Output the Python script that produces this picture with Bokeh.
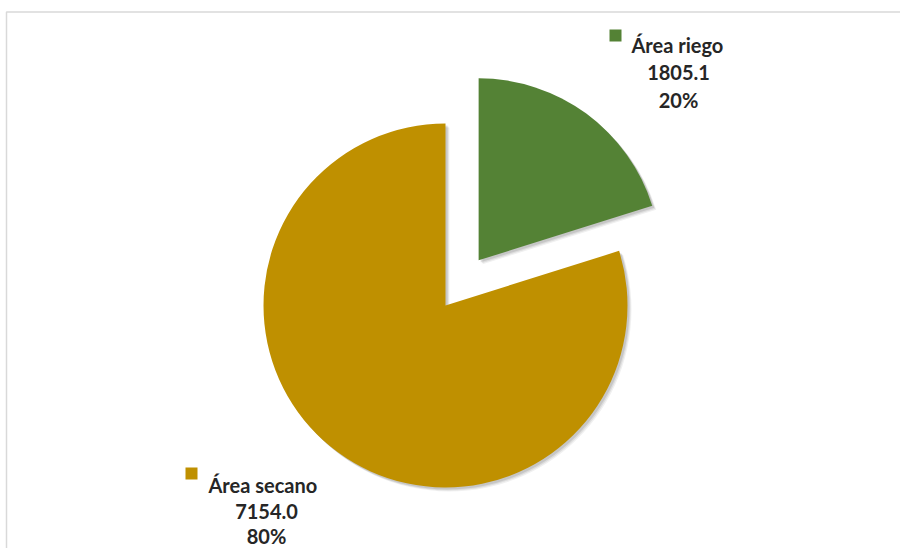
import math
from bokeh.plotting import figure
from bokeh.models import Range1d
from bokeh.core.properties import value
from bokeh.embed import file_html
from bokeh.resources import INLINE

# ---- data ----
categories = ["Área riego", "Área secano"]
values = [1805.1, 7154.0]
colors = ["#548235", "#BF9000"]

# ---- layout (pixels, page coordinates converted to data) ----
W, H = 900, 548
def px(x):  # page x -> data x
    return x
def py(y):  # page y -> data y
    return H - y

CX, CY = px(445), py(305)
R = 182
EXPLODE = [56, 0]

total = sum(values)
fracs = [v / total for v in values]

p = figure(width=W, height=H, x_range=Range1d(0, W), y_range=Range1d(0, H),
           output_backend="svg", toolbar_location=None, min_border=0)
p.axis.visible = False
p.grid.visible = False
p.outline_line_color = None
p.background_fill_color = "white"

# chart border (top & left visible, extends beyond)
p.line(x=[px(6), px(6), W], y=[0, py(11.5), py(11.5)], line_color="#d9d9d9", line_width=1.5)

cum = 0.0
wedges = []
for i, f in enumerate(fracs):
    end = math.radians(90 - cum * 360)
    start = math.radians(90 - (cum + f) * 360)
    mid = (start + end) / 2
    ox = CX + EXPLODE[i] * math.cos(mid)
    oy = CY + EXPLODE[i] * math.sin(mid)
    wedges.append((ox, oy, start, end, colors[i]))
    cum += f

# soft shadow
for dx, dy, a in [(4, -4, 0.06), (3, -3, 0.08), (2, -2, 0.10)]:
    for ox, oy, s, e, c in wedges:
        p.wedge(x=[ox + dx], y=[oy + dy], radius=R, start_angle=[s], end_angle=[e],
                fill_color="black", fill_alpha=a, line_color=None)

for ox, oy, s, e, c in wedges:
    p.wedge(x=[ox], y=[oy], radius=R, start_angle=[s], end_angle=[e],
            fill_color=c, line_color=None)

# ---- labels ----
FONT = value("Lato")
TXT = "#262626"
FS = "20px"
label_layout = [
    dict(sq=(615, 35), name_x=631, cx=678, base=(44, 72, 99)),
    dict(sq=(191, 473), name_x=208, cx=266, base=(484, 511, 535)),
]
for i, lay in enumerate(label_layout):
    p.rect(x=[px(lay["sq"][0])], y=[py(lay["sq"][1])], width=12, height=12,
           fill_color=colors[i], line_color=None)
    p.text(x=[px(lay["name_x"])], y=[py(lay["base"][0])], text=[categories[i]],
           text_font=FONT, text_font_style="bold", text_font_size=FS,
           text_color=TXT, text_align="left", text_baseline="alphabetic")
    p.text(x=[px(lay["cx"]), px(lay["cx"])], y=[py(lay["base"][1]), py(lay["base"][2])],
           text=[f"{values[i]:.1f}", f"{round(fracs[i] * 100)}%"],
           text_font=FONT, text_font_style="bold", text_font_size=FS,
           text_color=TXT, text_align="center", text_baseline="alphabetic")

open("out.html", "w").write(file_html(p, INLINE))
